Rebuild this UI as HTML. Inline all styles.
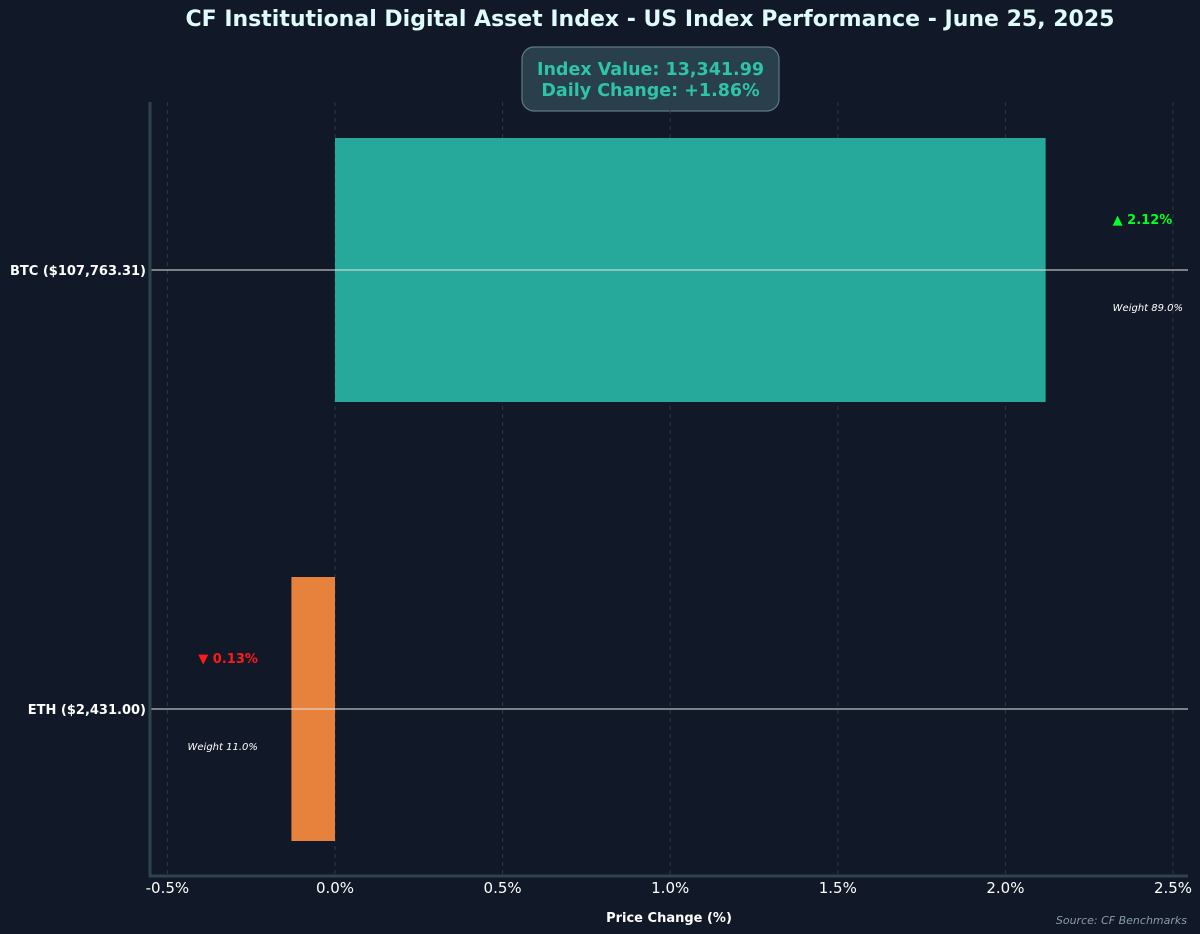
<!DOCTYPE html>
<html><head><meta charset="utf-8"><style>
body{margin:0;background:#111827;}
svg{display:block;font-family:"DejaVu Sans","Liberation Sans",sans-serif;}
</style></head><body>
<svg id="chart" width="1200" height="934" xmlns="http://www.w3.org/2000/svg">
<rect width="1200" height="934" fill="#111827"/>
<text x="650" y="26" text-anchor="middle" font-size="22" font-weight="bold" fill="#e0fbfc">CF Institutional Digital Asset Index - US Index Performance - June 25, 2025</text>
<g>
<rect x="522" y="47" width="257" height="64" rx="12" fill="#2a3f4c" stroke="#5f7a86" stroke-width="1.2"/>
<text x="650.5" y="75" text-anchor="middle" font-size="17.5" font-weight="bold" fill="#2ec4a9">Index Value: 13,341.99</text>
<text x="650.5" y="96" text-anchor="middle" font-size="17.5" font-weight="bold" fill="#2ec4a9">Daily Change: +1.86%</text>
</g>
<g id="grid"></g>
<g id="bars"></g>
<g id="labels"></g>
<line x1="150" y1="102" x2="150" y2="877" stroke="#2f434c" stroke-width="3"/>
<line x1="149" y1="876" x2="1188" y2="876" stroke="#2f434c" stroke-width="3"/>
<text x="669" y="922" text-anchor="middle" font-size="13" font-weight="bold" fill="#ffffff">Price Change (%)</text>
<text x="1187" y="924" text-anchor="end" font-size="11" font-style="italic" fill="#8a9ba8">Source: CF Benchmarks</text>
</svg>
<script>
const categories = ["BTC ($107,763.31)", "ETH ($2,431.00)"];
const changes = [2.12, -0.13];
const weights = [89.0, 11.0];
const xTicks = [-0.5, 0, 0.5, 1.0, 1.5, 2.0, 2.5];

const NS = "http://www.w3.org/2000/svg";
function x(v){ return 335 + v * 335.2; }
function y(i){ return 270 + i * 439; }
const bandH = 264;
function mk(tag, attrs, parent, text){
  const e = document.createElementNS(NS, tag);
  for (const k in attrs) e.setAttribute(k, attrs[k]);
  if (text !== undefined) e.textContent = text;
  parent.appendChild(e);
  return e;
}
const grid = document.getElementById('grid');
const bars = document.getElementById('bars');
const labels = document.getElementById('labels');
const svg = document.getElementById('chart');

xTicks.forEach(t => {
  const l = mk('line', {x1:x(t), x2:x(t), y1:102, y2:876, stroke:'#2a3a45', 'stroke-width':1, 'stroke-dasharray':'4,4'}, grid);
  
  
  const tx = mk('text', {x:x(t), y:893, 'text-anchor':'middle', 'font-size':15, fill:'#ffffff'}, svg, t.toFixed(1) + '%');
  
  
});

categories.forEach((c, i) => {
  const v = changes[i];
  const cy = y(i);
  const r = mk('rect', {x:Math.min(x(0), x(v)), y:cy - bandH/2, width:Math.abs(x(v) - x(0)), height:bandH, fill: v >= 0 ? '#26a99a' : '#e6823c'}, bars);
  
  
  const ln = mk('line', {x1:150, x2:1188, y1:cy, y2:cy, stroke:'#e6e6e6', 'stroke-width':1}, bars);
  
  
  const yl = mk('text', {x:146, y:cy + 5, 'text-anchor':'end', 'font-size':13, 'font-weight':'bold', fill:'#ffffff'}, svg, c);
  
  
  const pos = v >= 0;
  const lx = pos ? x(v + 0.2) : x(v - 0.1);
  const anchor = pos ? 'start' : 'end';
  const pl = mk('text', {x:lx, y:cy - 46, 'text-anchor':anchor, 'font-size':13, 'font-weight':'bold', fill: pos ? '#00ff22' : '#ff1a1a'}, labels, (pos ? '▲ ' : '▼ ') + Math.abs(v).toFixed(2) + '%');
  
  
  const wl = mk('text', {x:lx, y:cy + 41, 'text-anchor':anchor, 'font-size':10, 'font-style':'italic', fill:'#ffffff'}, labels, 'Weight ' + weights[i].toFixed(1) + '%');
  
  
});
</script>
</body></html>
